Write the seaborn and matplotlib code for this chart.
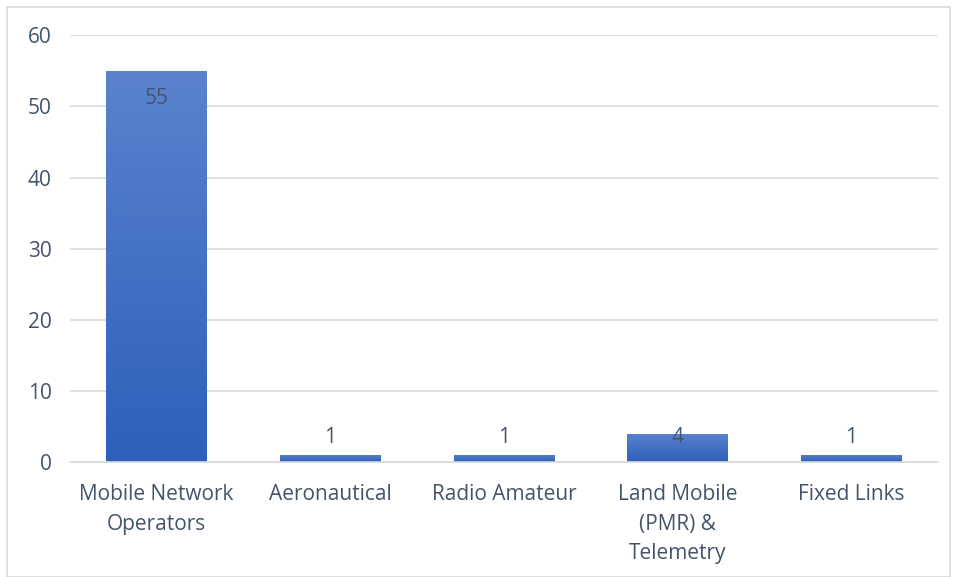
import numpy as np
import pandas as pd
import matplotlib
matplotlib.use("Agg")
import matplotlib.pyplot as plt
import seaborn as sns
from matplotlib.colors import LinearSegmentedColormap
from matplotlib.patches import Rectangle

categories = ["Mobile Network\nOperators", "Aeronautical", "Radio Amateur",
              "Land Mobile\n(PMR) &\nTelemetry", "Fixed Links"]
counts = [55, 1, 1, 4, 1]
y_ticks = [0, 10, 20, 30, 40, 50, 60]

text_col = "#44546A"
grid_col = "#D9D9D9"

sns.set_theme(style="white")
plt.rcParams["font.family"] = ["Open Sans", "DejaVu Sans"]

df = pd.DataFrame({"category": categories, "count": counts})

fig = plt.figure(figsize=(9.57, 5.77), dpi=100)
ax = fig.add_axes([0.073, 0.199, 0.907, 0.74])

sns.barplot(data=df, x="category", y="count", color="#4472C4", width=0.58,
            ax=ax, zorder=3)

# vertical gradient fill for each bar (light top, darker bottom)
grad = LinearSegmentedColormap.from_list("g", ["#2E5FBB", "#5B83CD"])
for bar in ax.patches:
    x0, w, h = bar.get_x(), bar.get_width(), bar.get_height()
    bar.set_facecolor("none")
    bar.set_edgecolor("none")
    img = ax.imshow(np.linspace(0, 1, 256).reshape(-1, 1), cmap=grad,
                    origin="lower", extent=[x0, x0 + w, 0, h],
                    aspect="auto", zorder=3)
    img.set_clip_path(bar)

ax.set_xlim(-0.5, len(categories) - 0.5)
ax.set_ylim(0, 60)
ax.set_yticks(y_ticks)
ax.yaxis.grid(True, color=grid_col, linewidth=1.2, zorder=0)
ax.set_axisbelow(True)
for s in ["top", "right", "left"]:
    ax.spines[s].set_visible(False)
ax.spines["bottom"].set_color(grid_col)
ax.spines["bottom"].set_linewidth(1.2)
ax.spines["bottom"].set_zorder(4)

ax.set_xlabel("")
ax.set_ylabel("")
ax.tick_params(axis="both", length=0, labelsize=15, labelcolor=text_col)
ax.tick_params(axis="x", pad=16)
ax.tick_params(axis="y", pad=13)
for lab in ax.get_xticklabels():
    lab.set_linespacing(1.52)
    lab.set_verticalalignment("top")

# data labels: inside end, pushed up for short bars
for i, v in enumerate(counts):
    y = max(v - 3.9, 3.5)
    ax.text(i, y, str(v), ha="center", va="center", fontsize=15,
            color=text_col, zorder=5)

fig.patches.append(Rectangle((7 / 957, 0), 943 / 957, 570 / 577,
                             transform=fig.transFigure, fill=False,
                             edgecolor=grid_col, linewidth=1.2))

fig.savefig("out.png", dpi=100)
